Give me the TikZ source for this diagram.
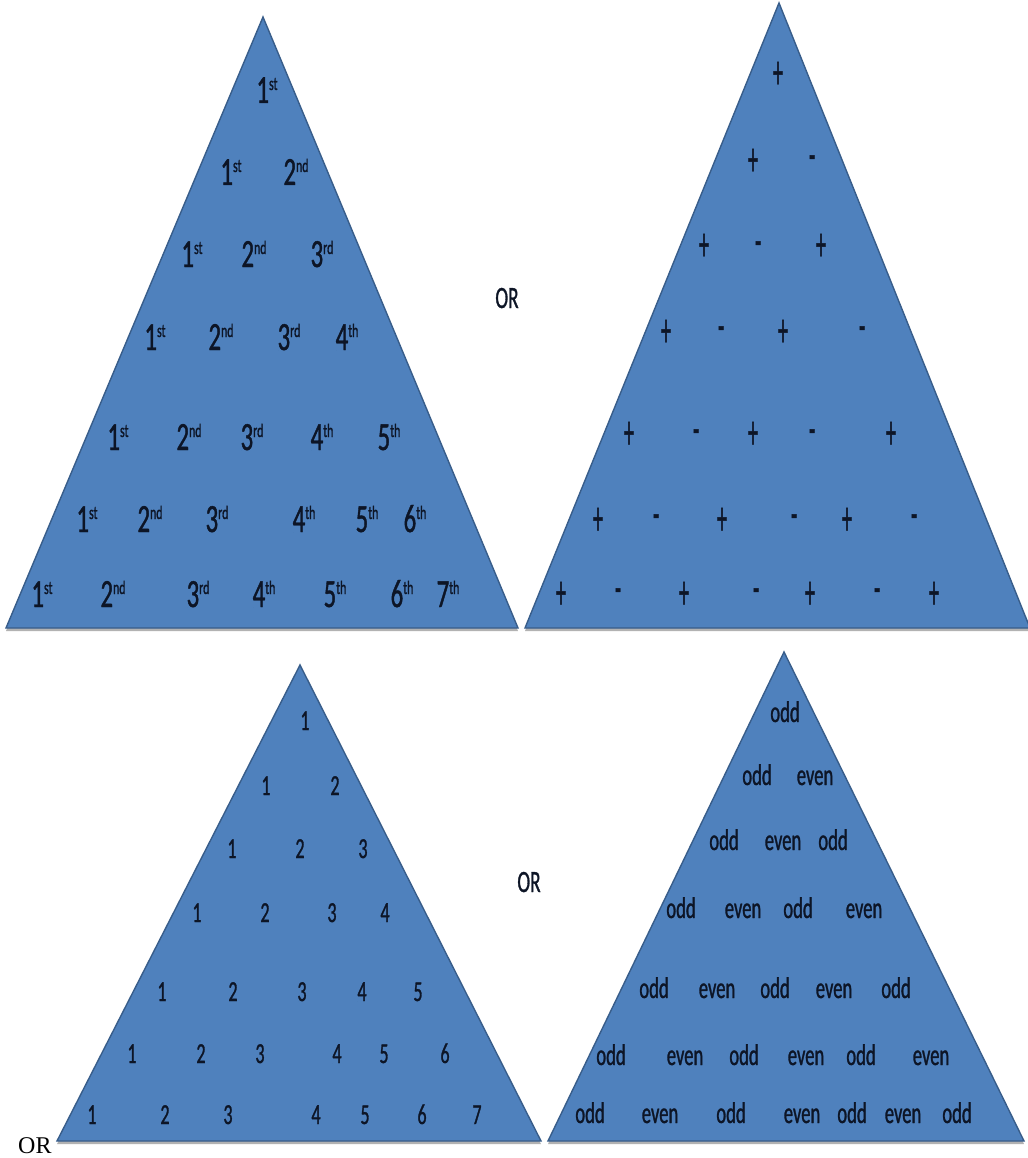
\documentclass[tikz,border=0pt]{standalone}
\usepackage{fontspec}
\setmainfont{Carlito}
\newfontfamily\ordfont[FakeStretch=0.62,FakeBold=1]{Carlito}
\newfontfamily\signfont[FakeStretch=0.4,FakeBold=1]{Carlito}
\newfontfamily\wordfont[FakeStretch=0.62,FakeBold=1]{Carlito}
\newfontfamily\orserif{Liberation Serif}
\definecolor{triblue}{HTML}{4F81BD}
\definecolor{triedge}{HTML}{385D8A}
\definecolor{txt}{HTML}{0D1526}
\newcommand{\ordlbl}[2]{{\fontsize{40}{40}\selectfont #1}\raisebox{13pt}{\fontsize{19}{19}\selectfont #2}}
\begin{document}
\begin{tikzpicture}[x=1pt,y=-1pt,
  tri/.style={fill=triblue, draw=triedge, line width=1.4pt, line join=miter},
  shade/.style={fill=black, opacity=0.3},
  lbl/.style={inner sep=0pt, text=txt, anchor=base},
  ordl/.style={lbl, font=\ordfont},
  numl/.style={lbl, font=\wordfont\fontsize{29}{29}\selectfont},
  wordl/.style={lbl, font=\wordfont\fontsize{30}{30}\selectfont},
  signl/.style={inner sep=0pt, text=txt, anchor=center, font=\signfont\fontsize{48}{48}\selectfont},
  orl/.style={lbl, font=\wordfont\fontsize{31}{31}\selectfont}]
\useasboundingbox (0,0) rectangle (1027,1158);
% triangle corners
\coordinate (A1) at (263,17);  \coordinate (A2) at (6,628);   \coordinate (A3) at (518,628);
\coordinate (B1) at (779,3);   \coordinate (B2) at (525,628); \coordinate (B3) at (1030,628);
\coordinate (C1) at (300,665); \coordinate (C2) at (57,1141); \coordinate (C3) at (541,1141);
\coordinate (D1) at (784,652); \coordinate (D2) at (548,1141);\coordinate (D3) at (1024,1141);
% shadows
\foreach \t in {A,B,C,D}{
  \fill[shade] ([yshift=-3pt]\t1) -- ([yshift=-3pt]\t2) -- ([yshift=-3pt]\t3) -- cycle;
}
% triangles
\foreach \t in {A,B,C,D}{
  \filldraw[tri] (\t1) -- (\t2) -- (\t3) -- cycle;
}
% top-left: ordinals
\foreach \x/\y/\d/\s [count=\i] in {
  267/103/1/st,
  231/185/1/st, 296/185/2/nd,
  192/267/1/st, 254/267/2/nd, 322/267/3/rd,
  155/350/1/st, 221/350/2/nd, 289/350/3/rd, 347/350/4/th,
  118/450/1/st, 189/450/2/nd, 252/450/3/rd, 322/450/4/th, 389/450/5/th,
  87/532/1/st, 150/532/2/nd, 217/532/3/rd, 304/532/4/th, 367/532/5/th, 415/532/6/th,
  42/607/1/st, 113/607/2/nd, 198/607/3/rd, 264/607/4/th, 335/607/5/th, 402/607/6/th, 448/607/7/th}{
  \node[ordl] (ord\i) at (\x,\y) {\ordlbl{\d}{\s}};
}
% top-right: signs
\foreach \x/\y/\s [count=\i] in {
  778/75/+,
  753/162/+, 812/163/-,
  704/247/+, 758/249/-, 821/247/+,
  666/333/+, 721/334/-, 783/333/+, 862/334/-,
  629/435/+, 696/437/-, 753/435/+, 812/437/-, 891/435/+,
  598/521/+, 656/522/-, 722/521/+, 794/522/-, 847/521/+, 914/522/-,
  561/595/+, 618/596/-, 684/595/+, 756/596/-, 810/595/+, 877/596/-, 934/595/+}{
  \node[signl] (sgn\i) at (\x,\y) {\s};
}
% bottom-left: numbers
\foreach \x/\y/\n [count=\i] in {
  305/730/1,
  266/795/1, 335/795/2,
  232/858/1, 300/858/2, 363/858/3,
  197/922/1, 265/922/2, 332/922/3, 385/922/4,
  162/1001/1, 233/1001/2, 302/1001/3, 362/1001/4, 418/1001/5,
  132/1063/1, 201/1063/2, 260/1063/3, 337/1063/4, 384/1063/5, 445/1063/6,
  92/1124/1, 165/1124/2, 228/1124/3, 316/1124/4, 365/1124/5, 422/1124/6, 477/1124/7}{
  \node[numl] (num\i) at (\x,\y) {\n};
}
% bottom-right: odd / even
\foreach \x/\y/\w [count=\i] in {
  785/722/odd,
  757/785/odd, 815/785/even,
  724/850/odd, 783/850/even, 833/850/odd,
  681/918/odd, 743/918/even, 798/918/odd, 864/918/even,
  654/998/odd, 717/998/even, 775/998/odd, 834/998/even, 896/998/odd,
  611/1065/odd, 685/1065/even, 744/1065/odd, 806/1065/even, 861/1065/odd, 931/1065/even,
  590/1123/odd, 660/1123/even, 731/1123/odd, 802/1123/even, 852/1123/odd, 903/1123/even, 957/1123/odd}{
  \node[wordl] (par\i) at (\x,\y) {\w};
}
% OR labels
\node[orl] (or1) at (507,308) {OR};
\node[orl] (or2) at (529,892) {OR};
\node[inner sep=0pt, anchor=base west, font=\orserif\fontsize{24}{24}\selectfont] (or3) at (18,1153) {OR};
\end{tikzpicture}
\end{document}
